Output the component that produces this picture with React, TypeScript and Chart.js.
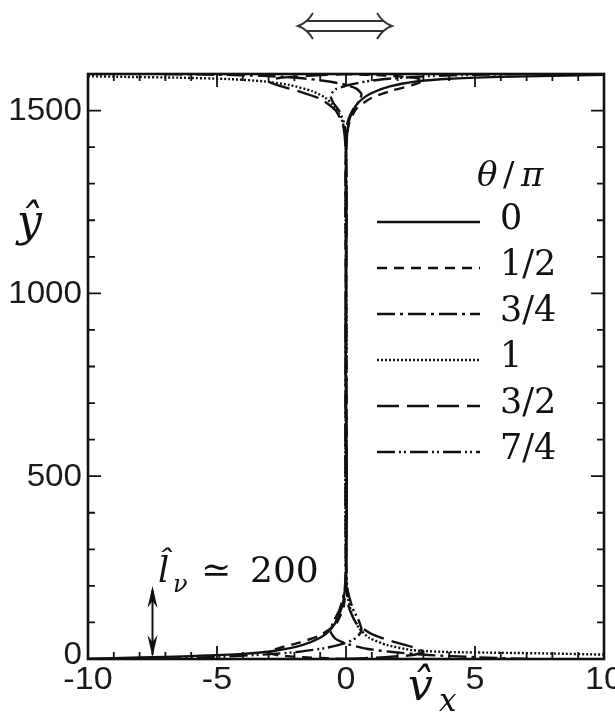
import React, { useEffect, useRef } from "react";
import { Chart, registerables } from "chart.js";

Chart.register(...registerables);

// Axis ranges and tick marks
const X_MIN = -10;
const X_MAX = 10;
const Y_MIN = 0;
const Y_MAX = 1600;
const X_MAJOR = [-10, -5, 0, 5, 10];
const X_MINOR = [-9, -8, -7, -6, -4, -3, -2, -1, 1, 2, 3, 4, 6, 7, 8, 9];
const Y_MAJOR = [0, 500, 1000, 1500];
const Y_MINOR = [100, 200, 300, 400, 600, 700, 800, 900, 1100, 1200, 1300, 1400];
const X_TICK_LABELS = ["-10", "-5", "0", "5", "10"];
const Y_TICK_LABELS = ["0", "500", "1000", "1500"];

// Phase labels (theta / pi)
const PHASES = ["0", "1/2", "3/4", "1", "3/2", "7/4"];

// Velocity profiles v_x(y) for each phase
const vx_0 = [-10, -8, -6, -4, -2.8, -1.7, -1.0, -0.6, -0.3, -0.1, 0, 0.03, -0.02, 0.02, 0, 0.05, 0.15, 0.35, 0.6, 1.0, 1.7, 2.8, 4, 6, 8, 10];
const y_0 = [1, 4, 8, 14, 22, 38, 58, 80, 115, 160, 230, 500, 900, 1200, 1380, 1440, 1480, 1510, 1530, 1548, 1566, 1580, 1587, 1592, 1595, 1598];

const vx_12 = [0, -1.5, -2.6, -3.0, -2.6, -1.8, -1.0, -0.4, -0.1, 0, 0.02, -0.02, 0, 0.1, 0.4, 1.0, 1.8, 2.6, 3.0, 2.6, 1.5, 0];
const y_12 = [0, 4, 10, 18, 30, 45, 65, 95, 140, 220, 700, 1200, 1380, 1460, 1505, 1535, 1555, 1570, 1582, 1590, 1596, 1600];

const vx_34 = [7.07, 5, 3.2, 1.8, 0.8, 0.1, -0.4, -0.6, -0.5, -0.25, -0.05, 0, 0.02, -0.02, 0, 0.05, 0.25, 0.5, 0.6, 0.4, -0.1, -0.8, -1.8, -3.2, -5, -7.07];
const y_34 = [0, 5, 11, 19, 28, 40, 55, 75, 100, 135, 190, 300, 800, 1300, 1410, 1465, 1500, 1525, 1545, 1560, 1572, 1581, 1589, 1595, 1598, 1600];

const vx_1 = [10, 8, 6, 4, 2.6, 1.6, 0.9, 0.5, 0.25, 0.08, 0, -0.03, 0.02, -0.02, 0, -0.05, -0.2, -0.45, -0.8, -1.3, -2.2, -3.2, -4.5, -6.5, -8.5, -10];
const y_1 = [12, 15, 17, 19, 24, 38, 58, 85, 118, 165, 240, 520, 900, 1250, 1390, 1445, 1483, 1512, 1535, 1553, 1570, 1580, 1586, 1590, 1592, 1594];

const vx_32 = [0, 1.5, 2.6, 3.0, 2.6, 1.8, 1.0, 0.4, 0.1, 0, -0.02, 0.02, 0, -0.1, -0.4, -1.0, -1.8, -2.6, -3.0, -2.6, -1.5, 0];
const y_32 = [0, 5, 11, 20, 32, 48, 68, 98, 145, 225, 650, 1150, 1375, 1455, 1500, 1532, 1552, 1568, 1580, 1589, 1595, 1600];

const vx_74 = [-7.07, -5, -3.2, -1.8, -0.8, -0.1, 0.4, 0.6, 0.5, 0.25, 0.05, 0, -0.02, 0.02, 0, -0.05, -0.25, -0.5, -0.6, -0.4, 0.1, 0.8, 1.8, 3.2, 5, 7.07];
const y_74 = [0, 6, 12, 20, 30, 42, 58, 78, 104, 140, 195, 320, 850, 1280, 1405, 1460, 1497, 1522, 1542, 1558, 1570, 1580, 1588, 1594, 1598, 1600];

// Annotated viscous length
const L_NU = 200;
const L_NU_X = -7.5;

const CURVES = [
  { vx: vx_0, y: y_0, dash: [] as number[] },
  { vx: vx_12, y: y_12, dash: [10, 7] },
  { vx: vx_34, y: y_34, dash: [18, 5, 3, 5] },
  { vx: vx_1, y: y_1, dash: [2, 2] },
  { vx: vx_32, y: y_32, dash: [22, 8] },
  { vx: vx_74, y: y_74, dash: [18, 4, 2, 3, 2, 4] },
];

const INK = "#111";
const SANS = "'Liberation Sans', Arial, sans-serif";
const SERIF = "'DejaVu Serif', 'Liberation Serif', serif";

// text drawn with a slight horizontal stretch
function wideText(ctx: CanvasRenderingContext2D, text: string, x: number, y: number, sx: number) {
  ctx.save();
  ctx.translate(x, y);
  ctx.scale(sx, 1);
  ctx.fillText(text, 0, 0);
  ctx.restore();
}

const decorPlugin = {
  id: "decor",
  afterDatasetsDraw(chart: any) {
    const ctx: CanvasRenderingContext2D = chart.ctx;
    const xs = chart.scales.x;
    const ys = chart.scales.y;
    const { left, right, top, bottom } = chart.chartArea;
    ctx.save();
    ctx.strokeStyle = INK;
    ctx.fillStyle = INK;

    // inward ticks on all four sides
    const tick = (len: number, vals: number[], horiz: boolean) => {
      ctx.lineWidth = 1.8;
      ctx.beginPath();
      for (const v of vals) {
        if (horiz) {
          const px = xs.getPixelForValue(v);
          ctx.moveTo(px, bottom);
          ctx.lineTo(px, bottom - len);
          ctx.moveTo(px, top);
          ctx.lineTo(px, top + len);
        } else {
          const py = ys.getPixelForValue(v);
          ctx.moveTo(left, py);
          ctx.lineTo(left + len, py);
          ctx.moveTo(right, py);
          ctx.lineTo(right - len, py);
        }
      }
      ctx.stroke();
    };
    tick(13, X_MAJOR, true);
    tick(7, X_MINOR, true);
    tick(13, Y_MAJOR, false);
    tick(7, Y_MINOR, false);

    // frame
    ctx.lineWidth = 2.6;
    ctx.strokeRect(left, top, right - left, bottom - top);

    // tick labels
    ctx.fillStyle = "#1a1a1a";
    ctx.font = `31px ${SANS}`;
    ctx.textAlign = "right";
    ctx.textBaseline = "middle";
    Y_MAJOR.forEach((v, i) => {
      const py = ys.getPixelForValue(v);
      wideText(ctx, Y_TICK_LABELS[i], left - 6, v === 0 ? py - 4 : py + 1, 1.07);
    });
    ctx.textAlign = "center";
    ctx.textBaseline = "top";
    X_MAJOR.forEach((v, i) => {
      wideText(ctx, X_TICK_LABELS[i], xs.getPixelForValue(v), bottom + 6, 1.1);
    });

    // axis titles
    ctx.fillStyle = INK;
    ctx.textAlign = "left";
    ctx.textBaseline = "alphabetic";
    ctx.font = `italic 44px ${SERIF}`;
    ctx.fillText("\u0177", 17, 236);
    ctx.fillText("v\u0302", 408, 700);
    ctx.font = `italic 31px ${SERIF}`;
    ctx.fillText("x", 439, 711);

    // legend
    const legX0 = 377;
    const legX1 = 480;
    const legText = 500;
    const legY0 = 222;
    const legStep = 46;
    ctx.font = `italic 34px ${SERIF}`;
    ctx.fillText("\u03B8", 477, 186);
    ctx.font = `34px ${SERIF}`;
    ctx.fillText("/", 503, 186);
    ctx.font = `italic 34px ${SERIF}`;
    ctx.fillText("\u03C0", 521, 186);
    chart.data.datasets.forEach((ds: any, i: number) => {
      const yy = legY0 + i * legStep;
      ctx.lineWidth = 2.6;
      ctx.setLineDash(ds.borderDash || []);
      ctx.beginPath();
      ctx.moveTo(legX0, yy);
      ctx.lineTo(legX1, yy);
      ctx.stroke();
      ctx.setLineDash([]);
      ctx.font = `35px ${SERIF}`;
      ctx.textBaseline = "middle";
      ctx.fillText(ds.label, legText, yy - 2);
      ctx.textBaseline = "alphabetic";
    });

    // viscous length annotation with a double-headed arrow
    const ax = xs.getPixelForValue(L_NU_X);
    const ay0 = ys.getPixelForValue(0);
    const ay1 = ys.getPixelForValue(L_NU);
    ctx.lineWidth = 2;
    ctx.beginPath();
    ctx.moveTo(ax, ay0 - 4);
    ctx.lineTo(ax, ay1 + 4);
    ctx.stroke();
    const head = (tipY: number, dir: number) => {
      ctx.beginPath();
      ctx.moveTo(ax, tipY);
      ctx.lineTo(ax - 5, tipY + dir * 22);
      ctx.lineTo(ax, tipY + dir * 15);
      ctx.lineTo(ax + 5, tipY + dir * 22);
      ctx.closePath();
      ctx.fill();
    };
    head(ay1, 1);
    head(ay0 - 2, -1);
    ctx.font = `italic 35px ${SERIF}`;
    ctx.fillText("l\u0302", 158, 582);
    ctx.font = `italic 24px ${SERIF}`;
    ctx.fillText("\u03BD", 173, 592);
    ctx.font = `36px ${SERIF}`;
    ctx.fillText("\u2243", 201, 582);
    ctx.fillText("200", 250, 582);

    // wall oscillation symbol above the plot
    ctx.strokeStyle = "#333";
    ctx.lineWidth = 1.9;
    ctx.beginPath();
    ctx.moveTo(306, 21);
    ctx.lineTo(384, 21);
    ctx.moveTo(306, 31);
    ctx.lineTo(384, 31);
    ctx.moveTo(313, 13);
    ctx.quadraticCurveTo(307, 23, 298, 26);
    ctx.quadraticCurveTo(307, 29, 313, 39);
    ctx.moveTo(377, 13);
    ctx.quadraticCurveTo(383, 23, 392, 26);
    ctx.quadraticCurveTo(383, 29, 377, 39);
    ctx.stroke();

    ctx.restore();
  },
};

export default function App() {
  const ref = useRef<HTMLCanvasElement | null>(null);

  useEffect(() => {
    if (!ref.current) return;
    const chart = new Chart(ref.current, {
      type: "scatter",
      data: {
        datasets: CURVES.map((c, i) => ({
          label: PHASES[i],
          data: c.vx.map((x, k) => ({ x, y: c.y[k] })),
          showLine: true,
          borderColor: INK,
          backgroundColor: INK,
          borderWidth: 2.4,
          borderDash: c.dash,
          pointRadius: 0,
          fill: false,
          tension: 0.2,
        })),
      },
      options: {
        responsive: false,
        animation: false,
        layout: { padding: { left: 88, right: 11, top: 74, bottom: 59 } },
        scales: {
          x: { type: "linear", min: X_MIN, max: X_MAX, display: false },
          y: { type: "linear", min: Y_MIN, max: Y_MAX, display: false },
        },
        plugins: { legend: { display: false }, tooltip: { enabled: false } },
      },
      plugins: [decorPlugin],
    });
    return () => chart.destroy();
  }, []);

  return (
    <div style={{ position: "absolute", left: 0, top: 0, width: 615, height: 718, background: "#fff" }}>
      <canvas ref={ref} width={615} height={718} style={{ display: "block" }} />
    </div>
  );
}
